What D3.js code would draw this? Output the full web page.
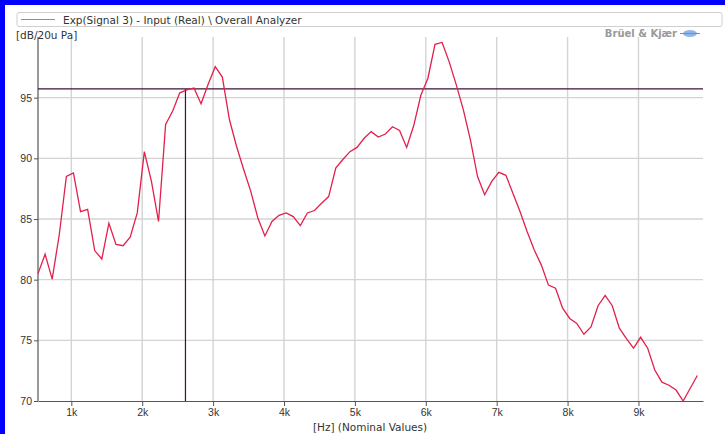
<!DOCTYPE html>
<html>
<head>
<meta charset="utf-8">
<script src="https://cdn.jsdelivr.net/npm/d3@7"></script>
<style>
  body { margin: 0; background: #fff; }
  svg { display: block; font-family: "DejaVu Sans", Verdana, sans-serif; }
</style>
</head>
<body>
<div class="chart"></div>
<script>
// frequencies of the spectrum lines (Hz)
var freqs = [530, 630, 730, 830, 930, 1030, 1130, 1230, 1330, 1430,
  1530, 1630, 1730, 1830, 1930, 2030, 2130, 2230, 2330, 2430,
  2530, 2630, 2730, 2830, 2930, 3030, 3130, 3230, 3330, 3430,
  3530, 3630, 3730, 3830, 3930, 4030, 4130, 4230, 4330, 4430,
  4530, 4630, 4730, 4830, 4930, 5030, 5130, 5230, 5330, 5430,
  5530, 5630, 5730, 5830, 5930, 6030, 6130, 6230, 6330, 6430,
  6530, 6630, 6730, 6830, 6930, 7030, 7130, 7230, 7330, 7430,
  7530, 7630, 7730, 7830, 7930, 8030, 8130, 8230, 8330, 8430,
  8530, 8630, 8730, 8830, 8930, 9030, 9130, 9230, 9330, 9430,
  9530, 9630, 9730, 9830];

// level in dB re 20uPa
var levels = [80.5, 82.1, 80.05, 83.7, 88.5, 88.8, 85.6, 85.8, 82.4, 81.7,
  84.65, 82.9, 82.8, 83.5, 85.5, 90.55, 88.1, 84.8, 92.8, 93.9,
  95.4, 95.65, 95.8, 94.5, 96.1, 97.55, 96.7, 93.2, 91.0, 89.1,
  87.3, 85.1, 83.6, 84.8, 85.3, 85.5, 85.2, 84.45, 85.5, 85.7,
  86.3, 86.85, 89.2, 89.9, 90.55, 90.9, 91.65, 92.2, 91.75, 92.0,
  92.6, 92.3, 90.9, 92.7, 95.2, 96.6, 99.4, 99.55, 97.95, 96.05,
  94.0, 91.5, 88.5, 87.0, 88.1, 88.85, 88.6, 87.1, 85.6, 83.95,
  82.45, 81.2, 79.55, 79.3, 77.65, 76.8, 76.4, 75.5, 76.1, 77.85,
  78.7, 77.85, 76.0, 75.15, 74.35, 75.25, 74.35, 72.55, 71.55, 71.3,
  70.9, 70.0, 71.05, 72.1];

var xTicks = [1000, 2000, 3000, 4000, 5000, 6000, 7000, 8000, 9000];
var yTicks = [70, 75, 80, 85, 90, 95];

// cursor position
var cursorFreq = 2610;
var cursorLevel = 95.72;

var width = 725, height = 434;
var plotLeft = 38, plotRight = 703, plotTop = 37, plotBottom = 401;

var svg = d3.select(".chart").append("svg")
  .attr("width", width).attr("height", height);

// blue frame (top + left)
svg.append("rect").attr("x", 0).attr("y", 0).attr("width", width).attr("height", 5).attr("fill", "#0000ff");
svg.append("rect").attr("x", 0).attr("y", 0).attr("width", 5).attr("height", height).attr("fill", "#0000ff");

var x = d3.scaleLinear().domain([530, 9910]).range([plotLeft, plotRight]);
var y = d3.scaleLinear().domain([70, 100]).range([plotBottom, plotTop]);

// grid
svg.append("g").selectAll("line").data(xTicks).enter().append("line")
  .attr("x1", function(d) { return x(d); }).attr("x2", function(d) { return x(d); })
  .attr("y1", plotTop).attr("y2", plotBottom)
  .attr("stroke", "#d4d4d4").attr("stroke-width", 1.4);
svg.append("g").selectAll("line").data(yTicks.slice(1)).enter().append("line")
  .attr("x1", plotLeft).attr("x2", plotRight)
  .attr("y1", function(d) { return y(d); }).attr("y2", function(d) { return y(d); })
  .attr("stroke", "#d4d4d4").attr("stroke-width", 1.4);

// axes
var xAxis = svg.append("g").attr("transform", "translate(0," + plotBottom + ")")
  .call(d3.axisBottom(x).tickValues(xTicks).tickSize(5).tickSizeOuter(0)
    .tickFormat(function(d) { return (d / 1000) + "k"; }));
var yAxis = svg.append("g").attr("transform", "translate(" + plotLeft + ",0)")
  .call(d3.axisLeft(y).tickValues(yTicks).tickSize(4).tickSizeOuter(0));

[xAxis, yAxis].forEach(function(a) {
  a.select(".domain").attr("stroke", "#555").attr("stroke-width", 1.2);
  a.selectAll(".tick line").attr("stroke", "#555");
  a.selectAll("text").attr("fill", "#333").style("font-size", "10.5px");
});
yAxis.select(".domain").attr("d", "M0," + plotTop + "V" + plotBottom);
yAxis.selectAll("text").attr("x", -6);

// cursor lines
svg.append("line").attr("x1", plotLeft).attr("x2", plotRight)
  .attr("y1", y(cursorLevel)).attr("y2", y(cursorLevel))
  .attr("stroke", "#3d1236").attr("stroke-width", 1.2);
svg.append("line").attr("x1", x(cursorFreq)).attr("x2", x(cursorFreq))
  .attr("y1", y(cursorLevel)).attr("y2", plotBottom)
  .attr("stroke", "#3d1236").attr("stroke-width", 1.2);

// spectrum curve
var line = d3.line()
  .x(function(d, i) { return x(freqs[i]); })
  .y(function(d) { return y(d); });
svg.append("path").datum(levels)
  .attr("d", line)
  .attr("fill", "none")
  .attr("stroke", "#e3204c")
  .attr("stroke-width", 1.3);

// legend box
svg.append("rect").attr("x", 17).attr("y", 12.5).attr("width", 705).attr("height", 14)
  .attr("rx", 2).attr("fill", "#fff").attr("stroke", "#cfcfcf");
svg.append("line").attr("x1", 21).attr("x2", 55).attr("y1", 19.5).attr("y2", 19.5)
  .attr("stroke", "#e8677f").attr("stroke-width", 1.2);
svg.append("text").attr("x", 63).attr("y", 23.5)
  .attr("fill", "#333").style("font-size", "10.5px")
  .text("Exp(Signal 3) - Input (Real) \\ Overall Analyzer");

// unit label
svg.append("text").attr("x", 16).attr("y", 39)
  .attr("fill", "#333").style("font-size", "10.5px")
  .text("[dB/20u Pa]");

// x label
svg.append("text").attr("x", 370).attr("y", 431)
  .attr("text-anchor", "middle")
  .attr("fill", "#333").style("font-size", "10.5px")
  .text("[Hz] (Nominal Values)");

// logo
svg.append("text").attr("x", 677).attr("y", 37)
  .attr("text-anchor", "end")
  .attr("fill", "#999").style("font-size", "10px").style("font-weight", "bold")
  .text("Brüel & Kjær");
svg.append("ellipse").attr("cx", 690).attr("cy", 33.5).attr("rx", 7).attr("ry", 3.5)
  .attr("fill", "#8fb8ea");
svg.append("line").attr("x1", 680).attr("x2", 700).attr("y1", 33.5).attr("y2", 33.5)
  .attr("stroke", "#5d93d8").attr("stroke-width", 1);
</script>
</body>
</html>
